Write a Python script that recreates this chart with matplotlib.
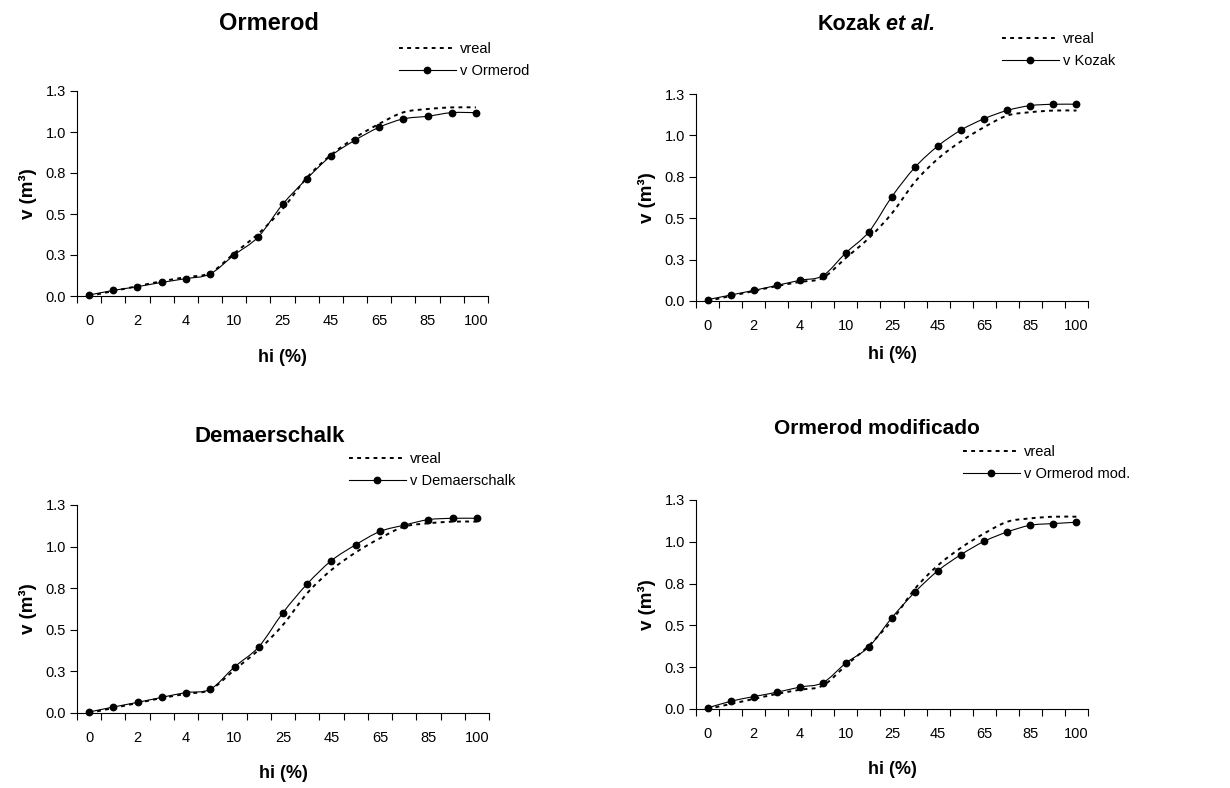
import matplotlib
matplotlib.use('Agg')
import matplotlib.pyplot as plt
from matplotlib.path import Path
from matplotlib.patches import PathPatch
from matplotlib.lines import Line2D
import numpy as np

plt.rcParams['font.family'] = ['Liberation Sans', 'DejaVu Sans']

# height classes (hi %), 17 categories on the axis
hi_labels = ['0', '1', '2', '3', '4', '5', '10', '15', '25', '35', '45', '55', '65', '75', '85', '95', '100']

# real volume (same in every panel)
v_real = [0.0, 0.03, 0.06, 0.09, 0.115, 0.14, 0.26, 0.38, 0.53, 0.72, 0.86, 0.965, 1.05, 1.12, 1.14, 1.15, 1.15]

# estimated volumes per taper model
v_ormerod = [0.006, 0.034, 0.057, 0.083, 0.106, 0.134, 0.25, 0.361, 0.558, 0.714, 0.854, 0.95, 1.029, 1.08, 1.096, 1.118, 1.118]
v_kozak = [0.008, 0.036, 0.064, 0.094, 0.125, 0.153, 0.291, 0.418, 0.631, 0.808, 0.937, 1.033, 1.101, 1.151, 1.18, 1.188, 1.188]
v_demaerschalk = [0.006, 0.036, 0.064, 0.094, 0.123, 0.143, 0.277, 0.398, 0.603, 0.776, 0.916, 1.011, 1.091, 1.129, 1.162, 1.17, 1.17]
v_ormerod_mod = [0.006, 0.046, 0.074, 0.10, 0.131, 0.157, 0.275, 0.372, 0.547, 0.70, 0.828, 0.924, 1.003, 1.059, 1.099, 1.109, 1.117]

titles = ['Ormerod', 'Kozak', 'Demaerschalk', 'Ormerod modificado']
model_labels = ['v Ormerod', 'v Kozak', 'v Demaerschalk', 'v Ormerod mod.']
model_values = [v_ormerod, v_kozak, v_demaerschalk, v_ormerod_mod]

y_ticks = [0.0, 0.25, 0.5, 0.75, 1.0, 1.25]
y_tick_labels = ['0.0', '0.3', '0.5', '0.8', '1.0', '1.3']


def smooth_path(xs, ys):
    # excel-like smoothed line: bezier segments through the data points
    pts = np.column_stack([xs, ys]).astype(float)
    n = len(pts)
    verts = [pts[0]]
    codes = [Path.MOVETO]
    for k in range(n - 1):
        p0 = pts[max(k - 1, 0)]
        p1 = pts[k]
        p2 = pts[k + 1]
        p3 = pts[min(k + 2, n - 1)]
        verts += [p1 + (p2 - p0) / 6, p2 - (p3 - p1) / 6, p2]
        codes += [Path.CURVE4] * 3
    return Path(verts, codes)


W, H = 1230, 788
fig = plt.figure(figsize=(W / 100, H / 100), dpi=100)

# axes boxes in pixels: left, top, right, bottom
boxes = [(77, 91, 488, 296), (696, 94, 1088, 301), (77, 505, 489, 713), (696, 500, 1088, 709)]
# title centre (px) and size
title_pos = [(269, 23, 17), (880, 24, 15.5), (270, 437, 16), (877, 429, 15)]
# legend top-left (px)
legend_pos = [(399, 42), (1002, 32), (349, 452), (963, 445)]
xlabel_pad = [15, 9, 14, 14]

dash = (0, (2, 2.2))

x = np.arange(len(hi_labels))

for i in range(4):
    l, t, r, b = boxes[i]
    ax = fig.add_axes([l / W, 1 - b / H, (r - l) / W, (b - t) / H])

    ax.add_patch(PathPatch(smooth_path(x, v_real), facecolor='none', edgecolor='black',
                           lw=1.4, linestyle=dash, clip_on=False))
    ax.add_patch(PathPatch(smooth_path(x, model_values[i]), facecolor='none', edgecolor='black',
                           lw=0.8, clip_on=False))
    ax.plot(x, model_values[i], linestyle='none', marker='o', markersize=4.6, color='black', clip_on=False)

    ax.set_xlim(-0.5, len(hi_labels) - 0.5)
    ax.set_ylim(0, 1.25)

    # labels on every other category, tick marks between categories
    ax.set_xticks(x[::2])
    ax.set_xticklabels(hi_labels[::2], fontsize=10.5)
    ax.tick_params(axis='x', which='major', length=0, pad=13)
    ax.set_xticks(np.arange(-0.5, len(hi_labels), 1), minor=True)
    ax.tick_params(axis='x', which='minor', length=5, width=0.8, direction='out')

    ax.set_yticks(y_ticks)
    ax.set_yticklabels(y_tick_labels, fontsize=10.5)
    ax.tick_params(axis='y', length=5, width=0.8, direction='out', pad=3)

    for s in ['top', 'right']:
        ax.spines[s].set_visible(False)
    for s in ['left', 'bottom']:
        ax.spines[s].set_linewidth(0.8)

    ax.set_xlabel('hi (%)', fontsize=13, fontweight='bold', labelpad=xlabel_pad[i])
    ax.set_ylabel('v (m³)', fontsize=13.5, fontweight='bold', labelpad=6)

    handles = [Line2D([], [], color='black', lw=1.4, linestyle=dash),
               Line2D([], [], color='black', lw=0.8, marker='o', markersize=4.6)]
    ax.legend(handles, ['vreal', model_labels[i]], loc='upper left',
              bbox_to_anchor=(legend_pos[i][0] / W, 1 - legend_pos[i][1] / H),
              bbox_transform=fig.transFigure, frameon=False, fontsize=10.5,
              handlelength=3.9, handletextpad=0.3, borderpad=0, borderaxespad=0,
              labelspacing=0.55)

    tx, ty, ts = title_pos[i]
    if titles[i] == 'Kozak':
        fig.text((tx + 1) / W, 1 - ty / H, 'Kozak', fontsize=ts, fontweight='bold', ha='right', va='center')
        fig.text((tx + 6) / W, 1 - ty / H, 'et al.', fontsize=ts, fontweight='bold', style='italic',
                 ha='left', va='center')
    else:
        fig.text(tx / W, 1 - ty / H, titles[i], fontsize=ts, fontweight='bold', ha='center', va='center')

plt.savefig('out.png', dpi=100)
